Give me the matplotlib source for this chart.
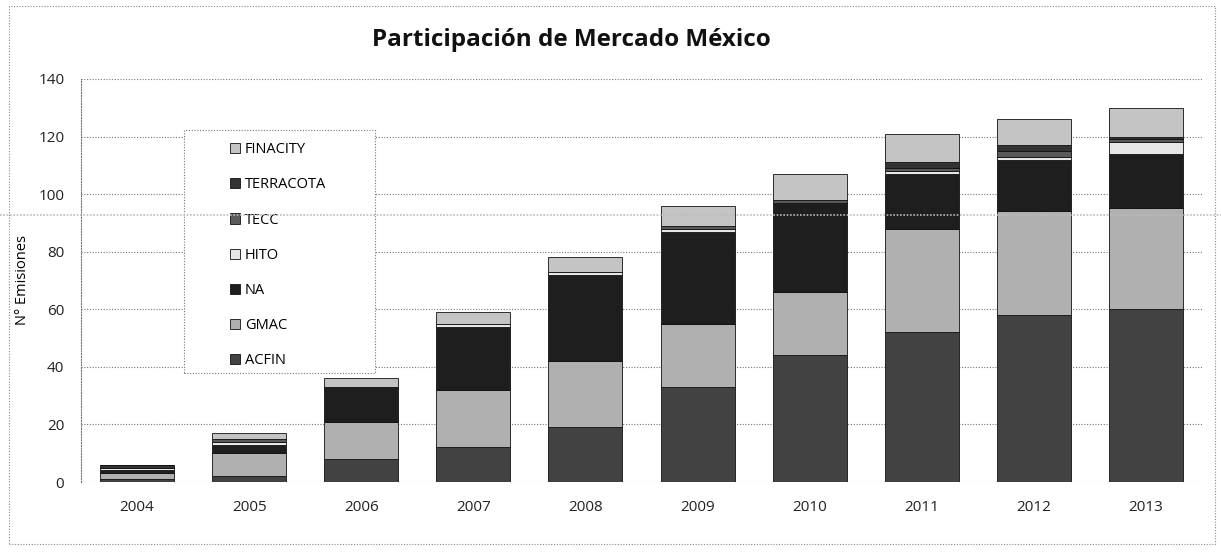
import numpy as np
import matplotlib.pyplot as plt
from matplotlib.patches import Rectangle
from matplotlib.lines import Line2D

plt.rcParams['font.family'] = ['Open Sans', 'DejaVu Sans']

years = ['2004', '2005', '2006', '2007', '2008', '2009', '2010', '2011', '2012', '2013']
# stacked from the bottom up
acfin = [1, 2, 8, 12, 19, 33, 44, 52, 58, 60]
gmac = [2, 8, 13, 20, 23, 22, 22, 36, 36, 35]
na = [1, 3, 12, 22, 30, 32, 31, 19, 18, 19]
hito = [1, 1, 0, 1, 1, 1, 0, 1, 1, 4]
tecc = [0, 1, 0, 0, 0, 1, 1, 1, 2, 1]
terracota = [1, 0, 0, 0, 0, 0, 0, 2, 2, 1]
finacity = [0, 2, 3, 4, 5, 7, 9, 10, 9, 10]

series = ['ACFIN', 'GMAC', 'NA', 'HITO', 'TECC', 'TERRACOTA', 'FINACITY']
values = [acfin, gmac, na, hito, tecc, terracota, finacity]
grays = ['#424242', '#b0b0b0', '#1e1e1e', '#e6e6e6', '#5a5a5a', '#333333', '#c4c4c4']

fig = plt.figure(figsize=(12.21, 5.52), dpi=100)
ax = fig.add_axes([0.0663, 0.1268, 0.9182, 0.7302])

x = np.arange(len(years))
bottom = np.zeros(len(years))
for name, vals, c in zip(series, values, grays):
    ax.bar(x, vals, width=0.66, bottom=bottom, color=c, edgecolor='#111111',
           linewidth=0.6, label=name, zorder=3)
    bottom += np.array(vals)

ax.set_xlim(-0.5, len(years) - 0.5)
ax.set_ylim(0, 140)
ax.set_yticks(np.arange(0, 141, 20))
ax.set_xticks(x)
ax.set_xticklabels(years)
ax.tick_params(axis='both', length=0, labelsize=11, colors='#222222')
ax.tick_params(axis='x', pad=13)
ax.tick_params(axis='y', pad=12)
ax.grid(axis='y', linestyle=(0, (1, 1.5)), color='#777777', linewidth=0.8, zorder=0)
for s in ['top', 'right', 'bottom']:
    ax.spines[s].set_visible(False)
ax.spines['left'].set_linestyle((0, (1, 1.5)))
ax.spines['left'].set_color('#777777')
ax.set_ylabel('N° Emisiones', fontsize=10.5, labelpad=6)

# legend frame and entries
ax.add_patch(Rectangle((0.092, 0.27), 0.17, 0.603, transform=ax.transAxes,
                       fill=True, facecolor='white', edgecolor='#777777',
                       linestyle=(0, (1, 1.5)), linewidth=0.8, zorder=4))
h, l = ax.get_legend_handles_labels()
leg = ax.legend(h[::-1], l[::-1], loc='upper left', bbox_to_anchor=(0.124, 0.868),
                frameon=False, fontsize=10.5, handlelength=0.7, handleheight=0.7,
                handletextpad=0.3, labelspacing=1.38, borderpad=0.2)
leg.set_zorder(5)

fig.text(0.468, 0.928, 'Participación de Mercado México', ha='center', va='center',
         fontsize=17.5, fontweight='bold', color='#111111')

# outer frame of the pasted chart
fig.add_artist(Rectangle((0.007, 0.015), 0.988, 0.975, transform=fig.transFigure,
                         fill=False, edgecolor='#888888', linestyle=(0, (1, 1.5)),
                         linewidth=0.8))
# fold line from the scan
fig.add_artist(Line2D([0, 1], [1 - 215 / 552] * 2, transform=fig.transFigure,
                      color='#bbbbbb', linestyle=(0, (1, 1)), linewidth=1.2))

fig.savefig('out.png', dpi=100)
